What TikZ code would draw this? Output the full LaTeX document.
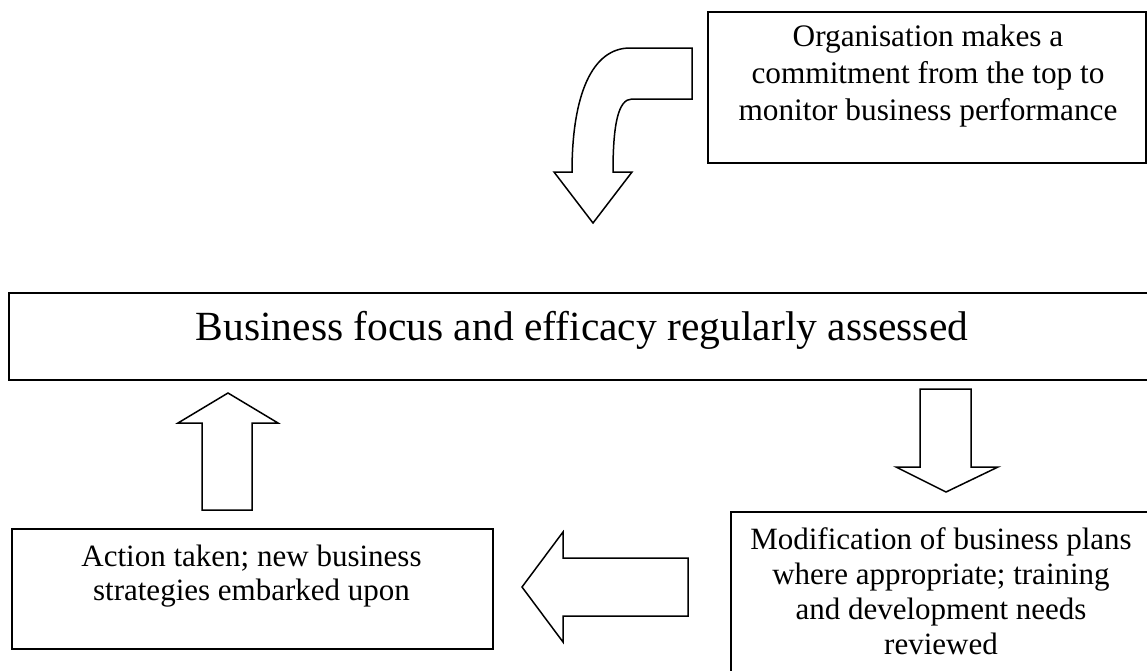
\documentclass[tikz,border=0pt]{standalone}
\usepackage{fontspec}
\setmainfont{Liberation Serif}
\tikzset{
  box/.style={draw, line width=1.6pt, inner sep=0pt, anchor=north west},
  blockarrow/.style={draw, line width=1.5pt, fill=white, line join=miter},
  boxtext/.style={align=center, inner sep=0pt, anchor=north},
}
\begin{document}
\begin{tikzpicture}[x=1pt,y=-1pt]
\useasboundingbox (0,0) rectangle (1147,670);
\clip (0,0) rectangle (1147,670);

% boxes
\node[box, minimum width=438pt, minimum height=151pt] (topbox) at (707,11) {};
\node[box, minimum width=1147pt, minimum height=87pt] (mainbox) at (8,292) {};
\node[box, minimum width=481pt, minimum height=120pt] (leftbox) at (11,528) {};
\node[box, minimum width=422pt, minimum height=200pt] (rightbox) at (730,511) {};

% texts
\node[boxtext, font=\fontsize{31.3pt}{37pt}\selectfont] (toptext) at (928,20.1)
  {\strut Organisation makes a\\ \strut commitment from the top to\\ \strut monitor business performance};
\node[font=\fontsize{41.5pt}{48pt}\selectfont, anchor=base, inner sep=0pt] (maintext) at (582,340)
  {Business focus and efficacy regularly assessed};
\node[boxtext, font=\fontsize{31pt}{34.5pt}\selectfont] (lefttext) at (251.5,541.85)
  {\strut Action taken; new business\\ \strut strategies embarked upon};
\node[boxtext, font=\fontsize{31pt}{35pt}\selectfont] (righttext) at (941,524.5)
  {\strut Modification of business plans\\ \strut where appropriate; training\\ \strut and development needs\\ \strut reviewed};

% curved block arrow (top)
\draw[blockarrow] (692,48) -- (630,48)
  .. controls (592,48) and (572,95) .. (572,172)
  -- (554,172) -- (593,223) -- (632,172) -- (613,172)
  .. controls (613,125) and (618,99) .. (632,99)
  -- (692,99) -- cycle;

% up arrow (left)
\draw[blockarrow] (202,510) -- (202,423) -- (178,423) -- (228,393) -- (278,423) -- (252,423) -- (252,510) -- cycle;

% down arrow (right)
\draw[blockarrow] (920,389) -- (920,467) -- (896,467) -- (946,492) -- (998,467) -- (971,467) -- (971,389) -- cycle;

% left arrow (bottom)
\draw[blockarrow] (688,558) -- (563,558) -- (563,532) -- (522,587) -- (563,642) -- (563,616) -- (688,616) -- cycle;
\end{tikzpicture}
\end{document}
